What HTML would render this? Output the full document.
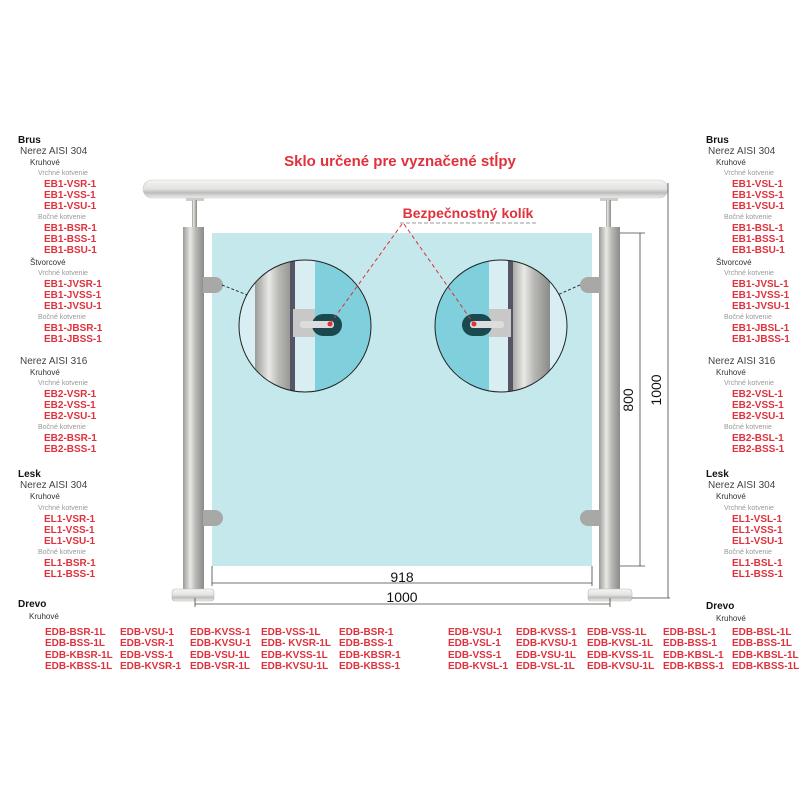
<!DOCTYPE html>
<html><head><meta charset="utf-8"><style>
body{margin:0;width:800px;height:800px;background:#fff;position:relative;overflow:hidden;font-family:"Liberation Sans",sans-serif}
.col{position:absolute;line-height:11.05px;white-space:nowrap}
.col div{height:11.05px}
.h{font-weight:bold;font-size:10px;color:#111}
.n{font-size:10px;color:#444}
.k{font-size:8px;color:#333}
.v{font-size:7px;color:#999}
.c{font-size:10px;font-weight:bold;color:#e0313c}
.b{position:absolute;line-height:11.3px;font-size:10px;font-weight:bold;color:#e0313c;white-space:nowrap}
svg{position:absolute;left:0;top:0}
</style></head><body>
<svg width="800" height="800">
<defs>
<linearGradient id="pg" x1="0" x2="1"><stop offset="0" stop-color="#9a9a96"/><stop offset=".35" stop-color="#e8e8e6"/><stop offset=".6" stop-color="#b8b8b4"/><stop offset="1" stop-color="#8a8a86"/></linearGradient>
<linearGradient id="rg" x1="0" y1="0" x2="0" y2="1"><stop offset="0" stop-color="#f4f4f2"/><stop offset=".5" stop-color="#e2e2e0"/><stop offset=".7" stop-color="#bcbcba"/><stop offset="1" stop-color="#ededeb"/></linearGradient>
<clipPath id="c1"><circle cx="305" cy="326" r="66"/></clipPath>
<clipPath id="c2"><circle cx="501" cy="326" r="66"/></clipPath>
</defs>
<rect x="212" y="233" width="380" height="333" fill="#c5e8ed"/>
<rect x="143" y="180" width="525" height="18" rx="9" fill="url(#rg)" stroke="#ccc" stroke-width=".6"/>
<rect x="186" y="198" width="18" height="3" fill="#ccc"/>
<rect x="192" y="200" width="5" height="28" fill="url(#pg)"/>
<rect x="183" y="227" width="21" height="363" fill="url(#pg)"/>
<rect x="172" y="589" width="42" height="12" rx="3" fill="url(#rg)" stroke="#bbb" stroke-width=".6"/>
<path d="M203 277h12a8 8 0 0 1 0 16h-12z" fill="#a8a8a6"/>
<path d="M203 510h12a8 8 0 0 1 0 16h-12z" fill="#a8a8a6"/>
<rect x="600" y="198" width="18" height="3" fill="#ccc"/>
<rect x="606" y="200" width="5" height="28" fill="url(#pg)"/>
<rect x="599" y="227" width="21" height="363" fill="url(#pg)"/>
<rect x="588" y="589" width="44" height="12" rx="3" fill="url(#rg)" stroke="#bbb" stroke-width=".6"/>
<path d="M600 277h-12a8 8 0 0 0 0 16h12z" fill="#a8a8a6"/>
<path d="M600 510h-12a8 8 0 0 0 0 16h12z" fill="#a8a8a6"/>
<line x1="222" y1="285" x2="250" y2="296" stroke="#333" stroke-dasharray="3 2"/>
<line x1="580" y1="285" x2="555" y2="296" stroke="#333" stroke-dasharray="3 2"/>
<g clip-path="url(#c1)">
<rect x="235" y="258" width="140" height="136" fill="#d8eef2"/>
<rect x="255" y="258" width="40" height="136" fill="url(#pg)"/>
<rect x="290" y="258" width="5" height="136" fill="#556"/>
<rect x="315" y="258" width="60" height="136" fill="#7fd0dc"/>
<rect x="293" y="309" width="22" height="28" fill="#c8c8c8"/>
<rect x="312" y="314" width="30" height="22" rx="11" fill="#1a4a50"/>
<rect x="300" y="321" width="34" height="7" rx="3" fill="#ddd"/>
<circle cx="330" cy="324" r="2.5" fill="#e0313c"/>
</g>
<circle cx="305" cy="326" r="66" fill="none" stroke="#222" stroke-width="1"/>
<g clip-path="url(#c2)">
<rect x="431" y="258" width="140" height="136" fill="#d8eef2"/>
<rect x="431" y="258" width="58" height="136" fill="#7fd0dc"/>
<rect x="510" y="258" width="40" height="136" fill="url(#pg)"/>
<rect x="508" y="258" width="5" height="136" fill="#556"/>
<rect x="489" y="309" width="22" height="28" fill="#c8c8c8"/>
<rect x="462" y="314" width="30" height="22" rx="11" fill="#1a4a50"/>
<rect x="470" y="321" width="34" height="7" rx="3" fill="#ddd"/>
<circle cx="474" cy="324" r="2.5" fill="#e0313c"/>
</g>
<circle cx="501" cy="326" r="66" fill="none" stroke="#222" stroke-width="1"/>
<line x1="402" y1="224" x2="330" y2="324" stroke="#e0313c" stroke-dasharray="4 3"/>
<line x1="404" y1="224" x2="474" y2="324" stroke="#e0313c" stroke-dasharray="4 3"/>
<line x1="400" y1="223" x2="538" y2="223" stroke="#999" stroke-dasharray="4 2"/>
<g stroke="#444" stroke-width=".8" fill="none">
<line x1="212" y1="566" x2="212" y2="586"/><line x1="592" y1="566" x2="592" y2="586"/>
<line x1="212" y1="583" x2="592" y2="583"/>
<line x1="195" y1="598" x2="195" y2="607"/><line x1="610" y1="598" x2="610" y2="607"/>
<line x1="195" y1="604" x2="610" y2="604"/>
<line x1="620" y1="233" x2="645" y2="233"/><line x1="620" y1="566" x2="645" y2="566"/>
<line x1="640" y1="233" x2="640" y2="566"/>
<line x1="668" y1="183" x2="668" y2="598"/><line x1="632" y1="598" x2="670" y2="598"/>
</g>
<text x="402" y="582" font-size="14" text-anchor="middle" fill="#111">918</text>
<text x="402" y="602" font-size="14" text-anchor="middle" fill="#111">1000</text>
<text transform="translate(633,400) rotate(-90)" font-size="14" text-anchor="middle" fill="#111">800</text>
<text transform="translate(661,390) rotate(-90)" font-size="14" text-anchor="middle" fill="#111">1000</text>
<text x="400" y="166" font-size="15" font-weight="bold" text-anchor="middle" fill="#e0313c">Sklo určené pre vyznačené stĺpy</text>
<text x="468" y="218" font-size="14" font-weight="bold" text-anchor="middle" fill="#e0313c">Bezpečnostný kolík</text>
</svg>

<div class="col" style="left:18px;top:135px">
<div class="h">Brus</div>
<div class="n" style="padding-left:2px">Nerez AISI 304</div>
<div class="k" style="padding-left:12px">Kruhové</div>
<div class="v" style="padding-left:20px">Vrchné kotvenie</div>
<div class="c" style="padding-left:26px">EB1-VSR-1</div><div class="c" style="padding-left:26px">EB1-VSS-1</div><div class="c" style="padding-left:26px">EB1-VSU-1</div>
<div class="v" style="padding-left:20px">Bočné kotvenie</div>
<div class="c" style="padding-left:26px">EB1-BSR-1</div><div class="c" style="padding-left:26px">EB1-BSS-1</div><div class="c" style="padding-left:26px">EB1-BSU-1</div>
<div class="k" style="padding-left:12px">Štvorcové</div>
<div class="v" style="padding-left:20px">Vrchné kotvenie</div>
<div class="c" style="padding-left:26px">EB1-JVSR-1</div><div class="c" style="padding-left:26px">EB1-JVSS-1</div><div class="c" style="padding-left:26px">EB1-JVSU-1</div>
<div class="v" style="padding-left:20px">Bočné kotvenie</div>
<div class="c" style="padding-left:26px">EB1-JBSR-1</div><div class="c" style="padding-left:26px">EB1-JBSS-1</div>
<div></div>
<div class="n" style="padding-left:2px">Nerez AISI 316</div>
<div class="k" style="padding-left:12px">Kruhové</div>
<div class="v" style="padding-left:20px">Vrchné kotvenie</div>
<div class="c" style="padding-left:26px">EB2-VSR-1</div><div class="c" style="padding-left:26px">EB2-VSS-1</div><div class="c" style="padding-left:26px">EB2-VSU-1</div>
<div class="v" style="padding-left:20px">Bočné kotvenie</div>
<div class="c" style="padding-left:26px">EB2-BSR-1</div><div class="c" style="padding-left:26px">EB2-BSS-1</div>
<div style="height:14px"></div>
<div class="h">Lesk</div>
<div class="n" style="padding-left:2px">Nerez AISI 304</div>
<div class="k" style="padding-left:12px">Kruhové</div>
<div class="v" style="padding-left:20px">Vrchné kotvenie</div>
<div class="c" style="padding-left:26px">EL1-VSR-1</div><div class="c" style="padding-left:26px">EL1-VSS-1</div><div class="c" style="padding-left:26px">EL1-VSU-1</div>
<div class="v" style="padding-left:20px">Bočné kotvenie</div>
<div class="c" style="padding-left:26px">EL1-BSR-1</div><div class="c" style="padding-left:26px">EL1-BSS-1</div>
</div>

<div class="col" style="left:706px;top:135px">
<div class="h">Brus</div>
<div class="n" style="padding-left:2px">Nerez AISI 304</div>
<div class="k" style="padding-left:10px">Kruhové</div>
<div class="v" style="padding-left:18px">Vrchné kotvenie</div>
<div class="c" style="padding-left:26px">EB1-VSL-1</div><div class="c" style="padding-left:26px">EB1-VSS-1</div><div class="c" style="padding-left:26px">EB1-VSU-1</div>
<div class="v" style="padding-left:18px">Bočné kotvenie</div>
<div class="c" style="padding-left:26px">EB1-BSL-1</div><div class="c" style="padding-left:26px">EB1-BSS-1</div><div class="c" style="padding-left:26px">EB1-BSU-1</div>
<div class="k" style="padding-left:10px">Štvorcové</div>
<div class="v" style="padding-left:18px">Vrchné kotvenie</div>
<div class="c" style="padding-left:26px">EB1-JVSL-1</div><div class="c" style="padding-left:26px">EB1-JVSS-1</div><div class="c" style="padding-left:26px">EB1-JVSU-1</div>
<div class="v" style="padding-left:18px">Bočné kotvenie</div>
<div class="c" style="padding-left:26px">EB1-JBSL-1</div><div class="c" style="padding-left:26px">EB1-JBSS-1</div>
<div></div>
<div class="n" style="padding-left:2px">Nerez AISI 316</div>
<div class="k" style="padding-left:10px">Kruhové</div>
<div class="v" style="padding-left:18px">Vrchné kotvenie</div>
<div class="c" style="padding-left:26px">EB2-VSL-1</div><div class="c" style="padding-left:26px">EB2-VSS-1</div><div class="c" style="padding-left:26px">EB2-VSU-1</div>
<div class="v" style="padding-left:18px">Bočné kotvenie</div>
<div class="c" style="padding-left:26px">EB2-BSL-1</div><div class="c" style="padding-left:26px">EB2-BSS-1</div>
<div style="height:14px"></div>
<div class="h">Lesk</div>
<div class="n" style="padding-left:2px">Nerez AISI 304</div>
<div class="k" style="padding-left:10px">Kruhové</div>
<div class="v" style="padding-left:18px">Vrchné kotvenie</div>
<div class="c" style="padding-left:26px">EL1-VSL-1</div><div class="c" style="padding-left:26px">EL1-VSS-1</div><div class="c" style="padding-left:26px">EL1-VSU-1</div>
<div class="v" style="padding-left:18px">Bočné kotvenie</div>
<div class="c" style="padding-left:26px">EL1-BSL-1</div><div class="c" style="padding-left:26px">EL1-BSS-1</div>
</div>

<div class="h" style="position:absolute;left:18px;top:599px">Drevo</div>
<div class="k" style="position:absolute;left:29px;top:612px">Kruhové</div>
<div class="h" style="position:absolute;left:706px;top:601px">Drevo</div>
<div class="k" style="position:absolute;left:716px;top:614px">Kruhové</div>

<div class="b" style="left:45px;top:627px">EDB-BSR-1L<br>EDB-BSS-1L<br>EDB-KBSR-1L<br>EDB-KBSS-1L</div>
<div class="b" style="left:120px;top:627px">EDB-VSU-1<br>EDB-VSR-1<br>EDB-VSS-1<br>EDB-KVSR-1</div>
<div class="b" style="left:190px;top:627px">EDB-KVSS-1<br>EDB-KVSU-1<br>EDB-VSU-1L<br>EDB-VSR-1L</div>
<div class="b" style="left:261px;top:627px">EDB-VSS-1L<br>EDB- KVSR-1L<br>EDB-KVSS-1L<br>EDB-KVSU-1L</div>
<div class="b" style="left:339px;top:627px">EDB-BSR-1<br>EDB-BSS-1<br>EDB-KBSR-1<br>EDB-KBSS-1</div>
<div class="b" style="left:448px;top:627px">EDB-VSU-1<br>EDB-VSL-1<br>EDB-VSS-1<br>EDB-KVSL-1</div>
<div class="b" style="left:516px;top:627px">EDB-KVSS-1<br>EDB-KVSU-1<br>EDB-VSU-1L<br>EDB-VSL-1L</div>
<div class="b" style="left:587px;top:627px">EDB-VSS-1L<br>EDB-KVSL-1L<br>EDB-KVSS-1L<br>EDB-KVSU-1L</div>
<div class="b" style="left:663px;top:627px">EDB-BSL-1<br>EDB-BSS-1<br>EDB-KBSL-1<br>EDB-KBSS-1</div>
<div class="b" style="left:732px;top:627px">EDB-BSL-1L<br>EDB-BSS-1L<br>EDB-KBSL-1L<br>EDB-KBSS-1L</div>
</body></html>
